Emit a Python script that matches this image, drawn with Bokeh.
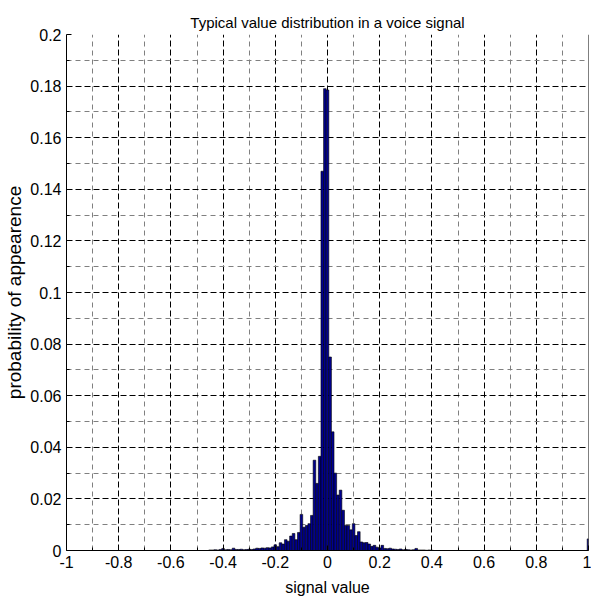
from bokeh.plotting import figure
from bokeh.models import Range1d, FixedTicker, Span, ColumnDataSource
from bokeh.embed import file_html
from bokeh.resources import INLINE

# histogram bin centres (bin width 0.01) and probability of appearance
signal_value = [-0.45, -0.44, -0.43, -0.42, -0.41, -0.40, -0.39, -0.38, -0.37, -0.36,
                -0.35, -0.34, -0.33, -0.32, -0.31, -0.30, -0.29, -0.28, -0.27, -0.26,
                -0.25, -0.24, -0.23, -0.22, -0.21, -0.20, -0.19, -0.18, -0.17, -0.16,
                -0.15, -0.14, -0.13, -0.12, -0.11, -0.10, -0.09, -0.08, -0.07, -0.06,
                -0.05, -0.04, -0.03, -0.02, -0.01, 0.00, 0.01, 0.02, 0.03, 0.04,
                0.05, 0.06, 0.07, 0.08, 0.09, 0.10, 0.11, 0.12, 0.13, 0.14,
                0.15, 0.16, 0.17, 0.18, 0.19, 0.20, 0.21, 0.22, 0.23, 0.24,
                0.25, 0.26, 0.27, 0.28, 0.29, 0.30, 0.31, 0.32, 0.33, 0.34,
                0.35, 0.36, 0.37, 0.38, 0.39, 0.40, 1.00]
probability = [0.0002, 0.0002, 0.0003, 0.0002, 0.0004, 0.0008, 0.0003, 0.0004, 0.0003, 0.0009,
               0.0004, 0.0004, 0.0005, 0.0003, 0.0004, 0.0005, 0.0004, 0.0006, 0.0009, 0.0008,
               0.0010, 0.0009, 0.0011, 0.0010, 0.0014, 0.0022, 0.0015, 0.0030, 0.0025, 0.0042,
               0.0036, 0.0056, 0.0066, 0.0042, 0.0070, 0.0140, 0.0090, 0.0097, 0.0104, 0.0136,
               0.0350, 0.0260, 0.0365, 0.1470, 0.1790, 0.1785, 0.0750, 0.0460, 0.0300, 0.0215,
               0.0234, 0.0156, 0.0097, 0.0097, 0.0080, 0.0104, 0.0058, 0.0073, 0.0033, 0.0030,
               0.0031, 0.0025, 0.0016, 0.0020, 0.0013, 0.0010, 0.0020, 0.0008, 0.0007, 0.0009,
               0.0006, 0.0005, 0.0004, 0.0006, 0.0003, 0.0004, 0.0003, 0.0002, 0.0003, 0.0008,
               0.0002, 0.0002, 0.0002, 0.0001, 0.0002, 0.0001, 0.0045]
bin_width = 0.01

x_major = [-1, -0.8, -0.6, -0.4, -0.2, 0, 0.2, 0.4, 0.6, 0.8, 1]
x_minor = [-0.9, -0.7, -0.5, -0.3, -0.1, 0.1, 0.3, 0.5, 0.7, 0.9]
y_major = [0, 0.02, 0.04, 0.06, 0.08, 0.1, 0.12, 0.14, 0.16, 0.18, 0.2]
y_minor = [0.01, 0.03, 0.05, 0.07, 0.09, 0.11, 0.13, 0.15, 0.17, 0.19]

FONT = "Liberation Sans"

p = figure(width=591, height=602, output_backend="svg", toolbar_location=None,
           x_range=Range1d(-1, 1), y_range=Range1d(0, 0.2),
           title="Typical value distribution in a voice signal",
           min_border_left=66, min_border_right=3, min_border_top=34, min_border_bottom=52)

p.title.align = "center"
p.title.text_font = FONT
p.title.text_font_size = "15px"
p.title.text_font_style = "normal"
p.title.text_color = "black"
p.title.standoff = 7

src = ColumnDataSource(dict(x=signal_value, top=probability))
p.vbar(x="x", top="top", bottom=0, width=bin_width, source=src,
       fill_color="#000090", line_color="black", line_width=0.6)

p.xaxis.ticker = FixedTicker(ticks=x_major, minor_ticks=x_minor)
p.yaxis.ticker = FixedTicker(ticks=y_major, minor_ticks=y_minor)
p.xaxis.major_label_overrides = {v: ("%g" % v) for v in x_major}
p.yaxis.major_label_overrides = {v: ("%g" % v) for v in y_major}

for ax in (p.xaxis, p.yaxis):
    ax.axis_line_color = "black"
    ax.major_tick_in = 5
    ax.major_tick_out = 0
    ax.minor_tick_in = 3
    ax.minor_tick_out = 0
    ax.major_label_text_font = FONT
    ax.major_label_text_font_size = "16px"
    ax.major_label_text_color = "black"
    ax.axis_label_text_font = FONT
    ax.axis_label_text_font_size = "16px"
    ax.axis_label_text_font_style = "normal"
    ax.axis_label_text_color = "black"

p.yaxis.axis_label_text_font_size = "19px"
p.xaxis.axis_label = "signal value"
p.yaxis.axis_label = "probability of appearence"
p.xaxis.major_label_standoff = 5
p.xaxis.axis_label_standoff = 8
p.yaxis.major_label_standoff = 5
p.yaxis.axis_label_standoff = 2

for g in (p.xgrid, p.ygrid):
    g.grid_line_color = "black"
    g.grid_line_dash = "6 3"
    g.grid_line_width = 1
    g.minor_grid_line_color = "#808080"
    g.minor_grid_line_dash = "5 4"
    g.minor_grid_line_width = 1

p.outline_line_color = None
p.add_layout(Span(location=1, dimension="height", line_color="black", line_width=1))
p.background_fill_color = "white"
p.border_fill_color = "white"

open("out.html", "w").write(file_html(p, INLINE))
